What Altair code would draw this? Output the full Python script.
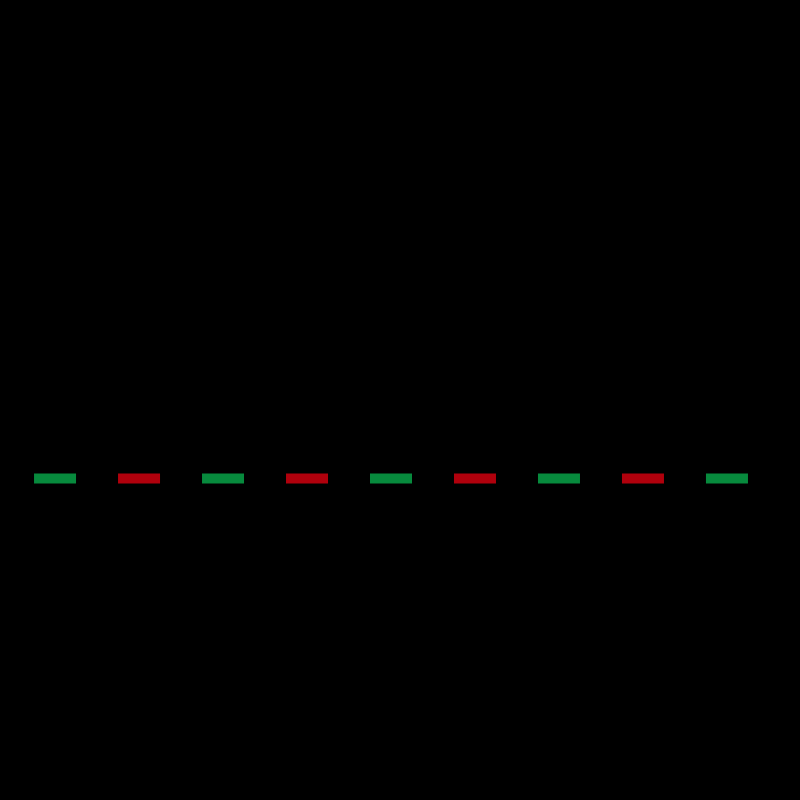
import io
import jinja2
import altair as alt
import pandas as pd

categories = ["1", "2", "3", "4", "5", "6", "7", "8", "9"]
values = [0.4, 0.4, 0.4, 0.4, 0.4, 0.4, 0.4, 0.4, 0.4]
direction = ["up", "down", "up", "down", "up", "down", "up", "down", "up"]

df = pd.DataFrame({"cat": categories, "value": values, "dir": direction})

chart = (
    alt.Chart(df)
    .mark_tick(thickness=10, size=42, opacity=1)
    .encode(
        x=alt.X("cat:N", sort=categories, axis=None,
                scale=alt.Scale(paddingInner=0.5, paddingOuter=0.31)),
        y=alt.Y("value:Q", axis=None, scale=alt.Scale(domain=[0, 1])),
        color=alt.Color("dir:N", legend=None,
                        scale=alt.Scale(domain=["up", "down"], range=["#078a3d", "#b0000c"])),
    )
    .properties(width=766, height=784, background="black", padding=0)
    .configure_view(stroke=None)
)

embed = {"renderer": "svg", "actions": False}

# Render the standard page once, then add a black page background.
buf = io.StringIO()
chart.save(buf, format="html", embed_options=embed)
page = buf.getvalue().replace("<head>", "<head>\n<style>html, body { background: #000; }</style>", 1)
template = jinja2.Template("{% raw %}" + page + "{% endraw %}")

chart.save("out.html", embed_options=embed, template=template)
